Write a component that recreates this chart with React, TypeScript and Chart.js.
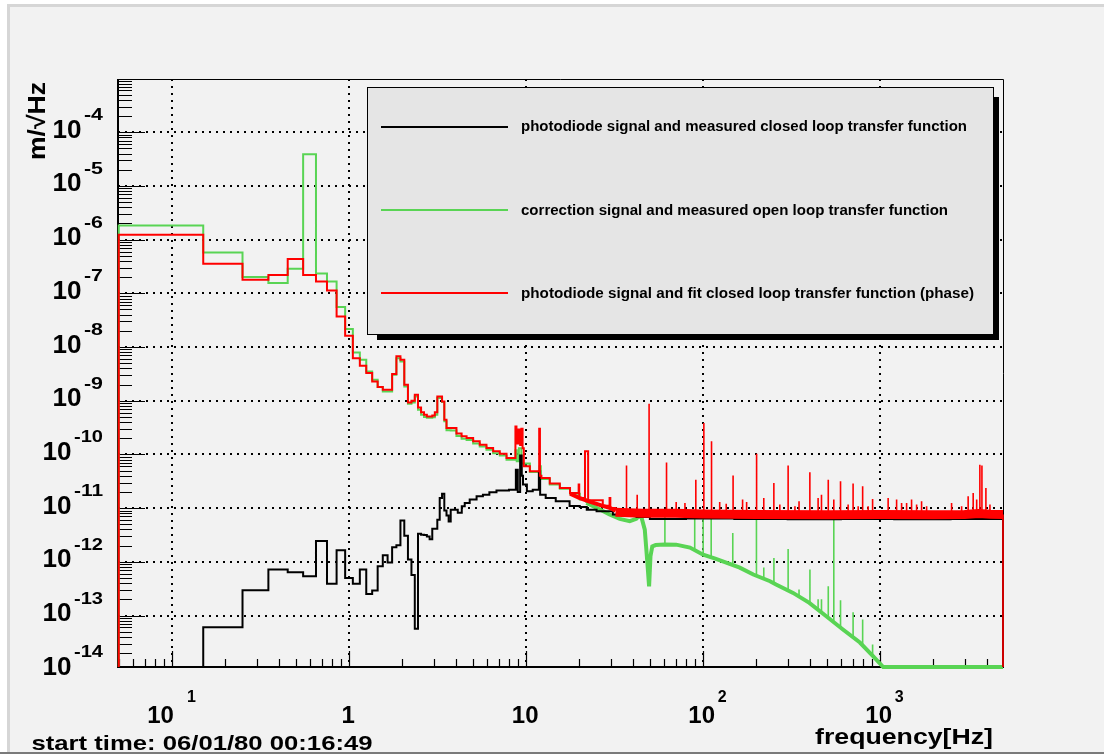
import React, { useEffect, useRef } from "react";
import { Chart, registerables } from "chart.js";

Chart.register(...registerables);

// ---------- axis ranges / tick labels ----------
const X_MIN = 0.0495;
const X_MAX = 4940;
const Y_MIN = 1.1e-14;
const Y_MAX = 9.8e-4;
const xDecadeExponents = [-1, 0, 1, 2, 3];
const yDecadeExponents = [-14, -13, -12, -11, -10, -9, -8, -7, -6, -5, -4];

// ---------- low-frequency histogram bins (0.1 Hz wide, left edges, Hz) ----------
const lowBinEdges = [
  0.05, 0.15, 0.25, 0.35, 0.45, 0.55, 0.65, 0.75, 0.85, 0.95, 1.05, 1.15, 1.25,
  1.35, 1.45, 1.55, 1.65, 1.75, 1.85, 1.95, 2.05, 2.15, 2.25, 2.35, 2.45, 2.55,
  2.65, 2.75, 2.85, 2.95, 3.05, 3.15, 3.25, 3.35, 3.45, 3.55, 3.65,
];

// photodiode signal and fit closed loop transfer function (phase) — red
const redLowBins = [
  1.23e-6, 3.56e-7, 1.79e-7, 2.19e-7, 4.35e-7, 2.19e-7, 1.66e-7, 1.13e-7, 3.72e-8,
  1.62e-8, 6.2e-9, 4.48e-9, 3.28e-9, 2.29e-9, 1.8e-9, 1.6e-9, 1.6e-9, 3.14e-9,
  6.7e-9, 5.8e-9, 1.99e-9, 9.3e-10, 1.0e-9, 1.29e-9, 7.5e-10, 6.1e-10, 5.5e-10,
  5.1e-10, 5.1e-10, 5.3e-10, 6.1e-10, 1.2e-9, 1.2e-9, 9.7e-10, 4.44e-10, 3.11e-10,
  3.11e-10,
];
const redTailFreq = [
  3.75, 4.04, 4.32, 4.61, 5.02, 5.47, 5.97, 6.51, 7.1, 7.75, 8.7, 8.82, 9.05, 9.25,
  9.4, 9.55, 9.7, 10.5, 11.85, 11.97, 12.2, 13.6, 15.5, 17.7, 19.8, 19.95, 21.5,
  22.4, 27.1, 29.6, 29.9, 32.0,
];
const redTailVal = [
  3.11e-10, 2.44e-10, 2.17e-10, 2.03e-10, 1.75e-10, 1.52e-10, 1.32e-10, 1.14e-10,
  1.03e-10, 8.6e-11, 3.3e-10, 1.6e-10, 2.9e-10, 1.5e-10, 3.0e-10, 1.3e-10, 6.0e-11,
  4.85e-11, 3.0e-10, 4.0e-11, 3.65e-11, 2.86e-11, 2.38e-11, 1.92e-11, 2.74e-11,
  1.55e-11, 1.14e-10, 1.4e-11, 1.11e-11, 1.55e-11, 1.0e-11, 9.0e-12,
];
// noisy thick part of the red curve (20–32 Hz)
const redNoiseFreq = [17.7, 19.95, 22.4, 25.0, 27.1, 29.9, 32.0];
const redNoiseVal = [1.85e-11, 1.55e-11, 1.35e-11, 1.2e-11, 1.1e-11, 1.0e-11, 9.0e-12];
const redBandFreq = [32, 45, 70, 100, 200, 500, 1000, 2000, 3000, 3600, 4200, 4940];
const redBandVal = [
  8.4e-12, 8.0e-12, 8.0e-12, 7.8e-12, 7.6e-12, 7.5e-12, 7.6e-12, 7.5e-12, 7.6e-12,
  7.9e-12, 7.7e-12, 7.6e-12,
];
const redFloorLevel = 7.6e-12;
const redSpikeFreq = [
  36.9, 42.4, 49.5, 62.1, 70.4, 78.9, 90.9, 100.9, 111.5, 124, 135, 147.6, 167, 176,
  200.4, 220, 250.8, 271, 302, 330, 348, 400.6, 446, 466, 509, 547, 597, 659, 703,
  751, 796, 855, 906, 1109, 1238, 1321, 1410, 1504, 1606, 1713, 1829, 2531, 2884,
  3140, 3352, 3508, 3656, 3756, 3955, 4168,
];
const redSpikeTop = [
  6.2e-11, 1.78e-11, 8.8e-10, 7.1e-11, 1.3e-11, 1.25e-11, 3.39e-11, 3.86e-10,
  1.75e-10, 1.3e-11, 1.2e-11, 4.03e-11, 1.44e-11, 1.3e-11, 1.03e-10, 1.55e-11,
  2.95e-11, 1.17e-11, 6.2e-11, 1.08e-11, 1.34e-11, 4.64e-11, 1.55e-11, 1.78e-11,
  3.39e-11, 1.44e-11, 3.15e-11, 1.17e-11, 2.86e-11, 1.08e-11, 2.55e-11, 1.08e-11,
  1.48e-11, 1.55e-11, 1.44e-11, 1.25e-11, 1.25e-11, 1.44e-11, 1.17e-11, 1.34e-11,
  1.08e-11, 1.25e-11, 1.08e-11, 1.66e-11, 1.92e-11, 1.44e-11, 6.45e-11, 6.2e-11,
  2.38e-11, 1.17e-11,
];

// correction signal and measured open loop transfer function — green
const greenLowBins = [
  1.84e-6, 5.77e-7, 2.01e-7, 1.56e-7, 2.87e-7, 3.91e-5, 2.34e-7, 1.66e-7, 5.56e-8,
  2.16e-8, 7.9e-9, 5.8e-9, 3.5e-9, 2.46e-9, 1.8e-9, 1.49e-9, 1.49e-9, 3.05e-9,
  6.2e-9, 5.4e-9, 1.85e-9, 8.8e-10, 9.3e-10, 1.2e-9, 6.8e-10, 5.5e-10, 5.0e-10,
  4.8e-10, 4.8e-10, 4.9e-10, 5.5e-10, 1.12e-9, 1.12e-9, 9.5e-10, 4.13e-10, 2.81e-10,
  2.81e-10,
];
const greenTailFreq = [
  3.75, 4.04, 4.32, 4.61, 5.02, 5.47, 5.97, 6.51, 7.1, 7.75, 8.7, 8.85, 9.1, 9.4,
  10.5, 11.9, 12.1, 13.6, 15.5, 17.7, 20.1, 21.9,
];
const greenTailVal = [
  2.8e-10, 2.2e-10, 1.95e-10, 1.85e-10, 1.6e-10, 1.4e-10, 1.22e-10, 1.05e-10, 9.5e-11,
  8.0e-11, 1.2e-10, 7.5e-11, 1.3e-10, 6.8e-11, 4.7e-11, 6.0e-11, 3.5e-11, 2.75e-11,
  2.3e-11, 1.85e-11, 1.45e-11, 1.25e-11,
];
const greenBandFreq = [
  21.9, 26.1, 29.6, 33.8, 38.5, 41.9, 43.3, 44.9, 46.8, 48.4, 49.5, 50.4, 51.6, 53.9,
  60.6, 70.4, 84.2, 100, 117, 135, 161, 192, 238.7, 258, 322, 398, 496, 616, 768, 911,
  1040, 4940,
];
const greenBandVal = [
  1.25e-11, 9.4e-12, 7.6e-12, 6.3e-12, 5.7e-12, 6.3e-12, 7.1e-12, 6.6e-12, 3.98e-12,
  9.7e-13, 3.5e-13, 1.27e-12, 1.94e-12, 2.05e-12, 2.1e-12, 2.09e-12, 1.84e-12,
  1.36e-12, 1.15e-12, 9.7e-13, 7.8e-13, 5.8e-13, 4.35e-13, 3.78e-13, 2.64e-13,
  1.72e-13, 9.7e-14, 5.5e-14, 3.14e-14, 1.75e-14, 0, 0,
];
const greenSpikeFreq = [
  60.8, 89.6, 100, 111, 147, 200, 220, 251, 302, 348, 401, 446, 466, 509, 547, 597,
  703, 796, 906,
];
const greenSpikeTop = [
  7.1e-12, 7.1e-12, 9.3e-12, 7.1e-12, 3.45e-12, 6.6e-12, 7.8e-13, 1.18e-12, 1.74e-12,
  3.05e-13, 7.2e-13, 2.0e-13, 2.0e-13, 3.5e-13, 6.1e-12, 1.93e-13, 1.15e-13, 8.4e-14,
  2.9e-14,
];
const greenSpikeBase = [
  2.1e-12, 1.7e-12, 1.36e-12, 1.15e-12, 8.5e-13, 5.8e-13, 5.0e-13, 4.0e-13, 2.9e-13,
  2.3e-13, 1.7e-13, 1.3e-13, 1.2e-13, 9.5e-14, 8.0e-14, 6.0e-14, 4.0e-14, 2.9e-14,
  1.8e-14,
];

// photodiode signal and measured closed loop transfer function — black
const blackLowBins = [
  0, 6.05e-14, 2.96e-13, 7.2e-13, 6.4e-13, 5.4e-13, 2.45e-12, 3.9e-13, 1.64e-12,
  5.0e-13, 3.9e-13, 7.2e-13, 2.53e-13, 2.92e-13, 8.3e-13, 1.32e-12, 9.7e-13, 1.86e-12,
  2.03e-12, 5.9e-12, 3.07e-12, 1.1e-12, 5.66e-13, 5.7e-14, 3.35e-12, 3.2e-12,
  3.15e-12, 2.95e-12, 2.64e-12, 4.15e-12, 4.15e-12, 6.1e-12, 1.55e-11, 1.86e-11,
  9.0e-12, 7.25e-12, 5.66e-12,
];
const blackTailFreq = [
  3.75, 4.11, 4.33, 4.5, 4.8, 5.25, 5.7, 6.2, 6.8, 8.0, 8.75, 8.97, 9.25, 9.45, 9.6,
  10.1, 10.9, 11.8, 12.0, 12.9, 14.7, 17.6, 20.1, 22.0, 25.0, 30.9, 38.5, 42.1, 50,
  80, 150, 300, 600, 1200, 2500, 4940,
];
const blackTailVal = [
  9.3e-12, 8.2e-12, 1.08e-11, 1.25e-11, 1.44e-11, 1.66e-11, 1.78e-11, 1.97e-11,
  2.14e-11, 2.2e-11, 5.2e-11, 2.0e-11, 9.5e-11, 4.0e-11, 2.74e-11, 2.06e-11, 2.2e-11,
  4.85e-11, 1.78e-11, 1.55e-11, 1.34e-11, 1.1e-11, 1.05e-11, 9.3e-12, 8.7e-12,
  7.6e-12, 7.1e-12, 6.8e-12, 6.3e-12, 6.4e-12, 6.3e-12, 6.2e-12, 6.3e-12, 6.2e-12,
  6.3e-12, 0,
];

// ---------- legend / titles ----------
const legendLabels = [
  "photodiode signal and measured closed loop transfer function",
  "correction signal and measured open loop transfer function",
  "photodiode signal and fit closed loop transfer function (phase)",
];
const COLOR_BLACK = "#000000";
const COLOR_GREEN = "#59d454";
const COLOR_RED = "#ff0000";
const legendColors = [COLOR_BLACK, COLOR_GREEN, COLOR_RED];
const titleText = "start time: 06/01/80 00:16:49";
const xTitle = "frequency[Hz]";
const yTitle = "m/\u221AHz";

const FONT = "'Liberation Sans', Arial, Helvetica, sans-serif";

// ---------- helpers ----------
const floorClamp = (v: number) => (v <= Y_MIN ? Y_MIN : v);
const toPoints = (fs: number[], vs: number[]) =>
  fs.map((f, i) => ({ x: f, y: floorClamp(vs[i]) }));

function spikePoints(fs: number[], tops: number[], bases: number[] | number) {
  const out: { x: number; y: number | null }[] = [];
  fs.forEach((f, i) => {
    const b = Array.isArray(bases) ? bases[i] : bases;
    out.push({ x: f, y: floorClamp(b) });
    out.push({ x: f, y: floorClamp(tops[i]) });
    out.push({ x: f, y: null });
  });
  return out;
}

function fitText(
  ctx: CanvasRenderingContext2D,
  text: string,
  x: number,
  y: number,
  width: number,
  font: string
) {
  ctx.save();
  ctx.font = font;
  ctx.textAlign = "left";
  ctx.textBaseline = "alphabetic";
  const w = ctx.measureText(text).width;
  ctx.translate(x, y);
  ctx.scale(width / w, 1);
  ctx.fillText(text, 0, 0);
  ctx.restore();
}

const decorPlugin = {
  id: "rootDecor",
  beforeDraw(chart: any) {
    const ctx: CanvasRenderingContext2D = chart.ctx;
    const W = chart.width;
    const H = chart.height;
    ctx.save();
    ctx.fillStyle = "#ffffff";
    ctx.fillRect(0, 0, W, H);
    ctx.fillStyle = "#f2f2f2";
    ctx.fillRect(8, 5, W - 8, H - 7);
    ctx.fillStyle = "#d6d6d6";
    ctx.fillRect(7, 4, W - 7, 3);
    ctx.fillRect(7, 4, 3, H - 6);
    ctx.fillStyle = "#7a7a7a";
    ctx.fillRect(0, H - 2, W, 2);
    ctx.restore();
  },
  beforeDatasetsDraw(chart: any) {
    const ctx: CanvasRenderingContext2D = chart.ctx;
    const { left, right, top, bottom } = chart.chartArea;
    const xs = chart.scales.x;
    const ys = chart.scales.y;
    ctx.save();
    ctx.strokeStyle = "#000";
    // frame
    ctx.lineWidth = 1;
    ctx.beginPath();
    ctx.moveTo(left, top + 0.5);
    ctx.lineTo(right + 0.5, top + 0.5);
    ctx.lineTo(right + 0.5, bottom);
    ctx.stroke();
    ctx.lineWidth = 2;
    ctx.beginPath();
    ctx.moveTo(left, top);
    ctx.lineTo(left, bottom);
    ctx.lineTo(right + 1, bottom);
    ctx.stroke();
    // y ticks
    ctx.lineWidth = 1.2;
    ctx.beginPath();
    for (let e = -15; e <= -3; e++) {
      for (let k = 1; k <= 9; k++) {
        const v = k * Math.pow(10, e);
        if (v < Y_MIN || v > Y_MAX) continue;
        const y = Math.round(ys.getPixelForValue(v)) + 0.5;
        const len = k === 1 ? 27 : 14;
        ctx.moveTo(left, y);
        ctx.lineTo(left + len, y);
      }
    }
    // x ticks
    for (let e = -2; e <= 3; e++) {
      for (let k = 1; k <= 9; k++) {
        const v = k * Math.pow(10, e);
        if (v < X_MIN || v > X_MAX) continue;
        const x = Math.round(xs.getPixelForValue(v)) + 0.5;
        const len = k === 1 ? 16 : 8;
        ctx.moveTo(x, bottom);
        ctx.lineTo(x, bottom - len);
      }
    }
    ctx.stroke();
    ctx.restore();
  },
  afterDatasetsDraw(chart: any) {
    const ctx: CanvasRenderingContext2D = chart.ctx;
    const xs = chart.scales.x;
    const ys = chart.scales.y;
    ctx.save();
    ctx.fillStyle = "#000";

    // y tick labels
    yDecadeExponents.forEach((e) => {
      const ty = ys.getPixelForValue(Math.pow(10, e));
      const sup = String(e);
      const supW = 9 + 10 * (sup.length - 1);
      const supRight = 103;
      fitText(ctx, sup, supRight - supW, ty - 12, supW, `bold 17px ${FONT}`);
      fitText(ctx, "10", supRight - supW - 2.5 - 29, ty + 5.5, 29, `bold 25px ${FONT}`);
    });

    // x tick labels
    ctx.textBaseline = "alphabetic";
    const xBase = 722.5;
    xDecadeExponents.forEach((e) => {
      const tx = xs.getPixelForValue(Math.pow(10, e));
      ctx.font = `bold 24px ${FONT}`;
      ctx.textAlign = "center";
      if (e === 0) {
        ctx.fillText("1", tx - 1, xBase);
      } else if (e === 1) {
        ctx.fillText("10", tx - 1, xBase);
      } else {
        const neg = e < 0;
        ctx.fillText("10", neg ? tx - 11.5 : tx - 1.5, xBase);
        ctx.font = `bold 16px ${FONT}`;
        ctx.textAlign = "left";
        ctx.fillText(String(Math.abs(e)), neg ? tx + 15 : tx + 14.5, 701.5);
      }
    });

    // titles
    fitText(ctx, titleText, 31.5, 750, 341, `bold 21px ${FONT}`);
    fitText(ctx, xTitle, 815, 743.5, 178, `bold 22px ${FONT}`);
    ctx.save();
    ctx.translate(45, 160);
    ctx.rotate(-Math.PI / 2);
    fitText(ctx, yTitle, 0, 0, 78, `bold 24px ${FONT}`);
    ctx.restore();

    // legend (shadow, box, samples, labels)
    const bx = 367.5, by = 87.5, bw = 626, bh = 247;
    ctx.fillStyle = "#000";
    ctx.fillRect(377, 97, 622, 243);
    ctx.fillStyle = "#e5e5e5";
    ctx.fillRect(bx, by, bw, bh);
    ctx.strokeStyle = "#000";
    ctx.lineWidth = 1;
    ctx.strokeRect(bx, by, bw, bh);
    const rowY = [126.7, 210, 293.3];
    const textW = [446, 427, 453];
    legendLabels.forEach((label, i) => {
      ctx.strokeStyle = legendColors[i];
      ctx.lineWidth = 2;
      ctx.beginPath();
      ctx.moveTo(381, Math.round(rowY[i]));
      ctx.lineTo(508, Math.round(rowY[i]));
      ctx.stroke();
      ctx.fillStyle = "#000";
      fitText(ctx, label, 521, rowY[i] + 4.5, textW[i], `bold 14px ${FONT}`);
    });
    ctx.restore();
  },
};

export default function App() {
  const canvasRef = useRef<HTMLCanvasElement | null>(null);

  useEffect(() => {
    const canvas = canvasRef.current;
    if (!canvas) return;

    const clip = { left: 2, right: 2, top: 2, bottom: 3 };
    const redMain = [
      { x: lowBinEdges[0], y: Y_MIN },
      ...toPoints(lowBinEdges, redLowBins),
      ...toPoints(redTailFreq, redTailVal),
    ];
    const greenMain = [
      { x: lowBinEdges[0], y: Y_MIN },
      ...toPoints(lowBinEdges, greenLowBins),
      ...toPoints(greenTailFreq, greenTailVal),
    ];
    const blackMain = [
      { x: lowBinEdges[0], y: Y_MIN },
      ...toPoints(lowBinEdges, blackLowBins),
      ...toPoints(blackTailFreq, blackTailVal),
    ];
    const redSpikes = spikePoints(
      [...redSpikeFreq, redBandFreq[redBandFreq.length - 1]],
      [...redSpikeTop, redBandVal[redBandVal.length - 1]],
      [...redSpikeFreq.map(() => redFloorLevel), 0]
    );
    const greenSpikes = spikePoints(greenSpikeFreq, greenSpikeTop, greenSpikeBase);

    const common = {
      pointRadius: 0,
      fill: false,
      clip,
      spanGaps: false,
      borderCapStyle: "butt" as const,
      borderJoinStyle: "miter" as const,
    };

    const chart = new Chart(canvas, {
      type: "line",
      data: {
        datasets: [
          { ...common, label: "red band", data: toPoints(redBandFreq, redBandVal), borderColor: COLOR_RED, borderWidth: 9, stepped: false, order: 1 },
          { ...common, label: "red noise", data: toPoints(redNoiseFreq, redNoiseVal), borderColor: COLOR_RED, borderWidth: 4, stepped: false, order: 1 },
          { ...common, label: legendLabels[2], data: redMain, borderColor: COLOR_RED, borderWidth: 2, stepped: true, order: 1 },
          { ...common, label: "red spikes", data: redSpikes, borderColor: COLOR_RED, borderWidth: 1.6, stepped: false, order: 1 },
          { ...common, label: legendLabels[0], data: blackMain, borderColor: COLOR_BLACK, borderWidth: 2, stepped: true, order: 2 },
          { ...common, label: legendLabels[1], data: greenMain, borderColor: COLOR_GREEN, borderWidth: 2, stepped: true, order: 3 },
          { ...common, label: "green band", data: toPoints(greenBandFreq, greenBandVal), borderColor: COLOR_GREEN, borderWidth: 4, stepped: false, order: 3 },
          { ...common, label: "green spikes", data: greenSpikes, borderColor: COLOR_GREEN, borderWidth: 1.6, stepped: false, order: 3 },
        ],
      },
      options: {
        animation: false,
        responsive: false,
        devicePixelRatio: 1,
        events: [],
        layout: { padding: { left: 118, right: 101, top: 79, bottom: 87 } },
        plugins: {
          legend: { display: false },
          tooltip: { enabled: false },
          title: { display: false },
        },
        scales: {
          x: {
            type: "logarithmic",
            min: X_MIN,
            max: X_MAX,
            afterFit: (s: any) => {
              s.height = 0;
            },
            afterBuildTicks: (s: any) => {
              s.ticks = xDecadeExponents.map((e) => ({ value: Math.pow(10, e) }));
            },
            ticks: { display: false },
            grid: { color: "#000", lineWidth: 2, drawTicks: false },
            border: { display: false, dash: [2, 5] },
          },
          y: {
            type: "logarithmic",
            min: Y_MIN,
            max: Y_MAX,
            afterFit: (s: any) => {
              s.width = 0;
            },
            afterBuildTicks: (s: any) => {
              s.ticks = yDecadeExponents
                .map((e) => Math.pow(10, e))
                .filter((v) => v >= Y_MIN && v <= Y_MAX)
                .map((v) => ({ value: v }));
            },
            ticks: { display: false },
            grid: { color: "#000", lineWidth: 2, drawTicks: false },
            border: { display: false, dash: [2, 5] },
          },
        },
      } as any,
      plugins: [decorPlugin],
    });

    return () => chart.destroy();
  }, []);

  return (
    <div style={{ position: "fixed", left: 0, top: 0, width: 1104, height: 754 }}>
      <canvas ref={canvasRef} width={1104} height={754} style={{ display: "block" }} />
    </div>
  );
}
